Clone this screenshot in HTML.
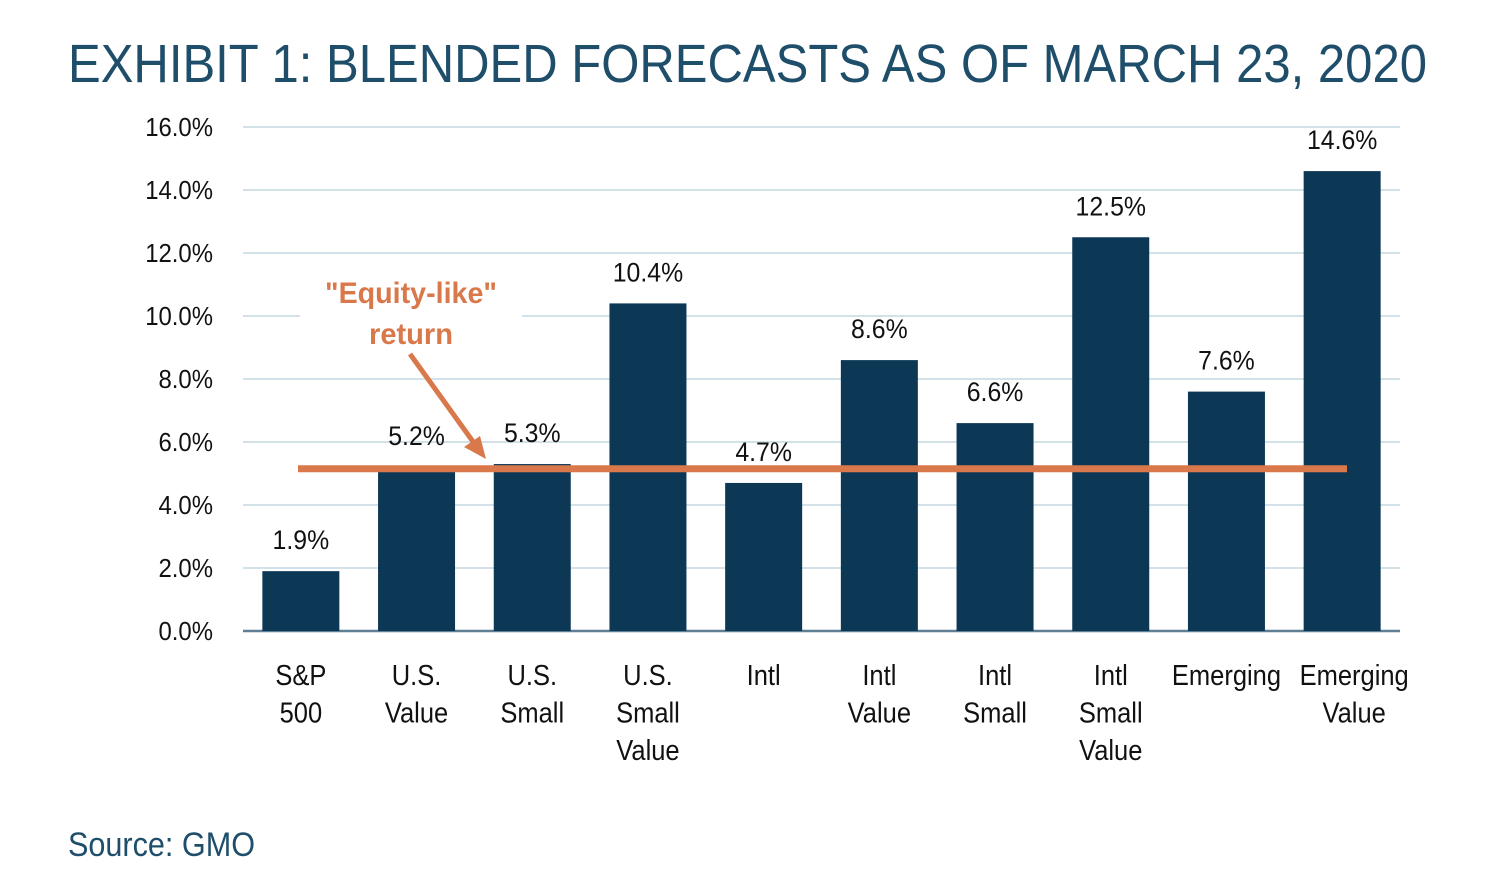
<!DOCTYPE html>
<html><head><meta charset="utf-8"><style>
html,body{margin:0;padding:0;background:#fff;width:1512px;height:888px;overflow:hidden}
svg{display:block}
text{font-family:"Liberation Sans Narrow","Liberation Sans",sans-serif}
</style></head><body>
<svg id="chart" width="1512" height="888" xmlns="http://www.w3.org/2000/svg">
<text x="68" y="82" font-size="54" fill="#1f4e6a" textLength="1359" lengthAdjust="spacingAndGlyphs">EXHIBIT 1: BLENDED FORECASTS AS OF MARCH 23, 2020</text>
<g id="grid"></g><g id="bars"></g><g id="labels"></g>
<rect x="300" y="268" width="222" height="84" fill="#fff"/>
<line id="eqline" x1="298" x2="1347" stroke="#d9784a" stroke-width="7"/>
<text x="411" y="303" font-size="30" font-weight="bold" fill="#d9784a" text-anchor="middle" textLength="172" lengthAdjust="spacingAndGlyphs">"Equity-like"</text>
<text x="411" y="344" font-size="30" font-weight="bold" fill="#d9784a" text-anchor="middle" textLength="84" lengthAdjust="spacingAndGlyphs">return</text>
<line x1="410" y1="354" x2="474" y2="443" stroke="#d9784a" stroke-width="5"/>
<polygon points="486,459 464,447 480,436" fill="#d9784a"/>
<text x="68" y="856" font-size="34" fill="#1f4e6a" textLength="187" lengthAdjust="spacingAndGlyphs">Source: GMO</text>
</svg>
<script>
const categories=[["S&P","500"],["U.S.","Value"],["U.S.","Small"],["U.S.","Small","Value"],["Intl"],["Intl","Value"],["Intl","Small"],["Intl","Small","Value"],["Emerging"],["Emerging","Value"]];
const values=[1.9,5.2,5.3,10.4,4.7,8.6,6.6,12.5,7.6,14.6];
const valueLabels=["1.9%","5.2%","5.3%","10.4%","4.7%","8.6%","6.6%","12.5%","7.6%","14.6%"];
const ticks=[0,2,4,6,8,10,12,14,16];
const tickLabels=["0.0%","2.0%","4.0%","6.0%","8.0%","10.0%","12.0%","14.0%","16.0%"];
const equityLike=[5.15];
const NS="http://www.w3.org/2000/svg";
const y0=631,pxPer=31.5,x0=243,x1=1400,n=categories.length,band=(x1-x0)/n;
const ys=v=>y0-v*pxPer, xs=i=>x0+band*(i+0.5);
function mk(tag,attrs,parent){const e=document.createElementNS(NS,tag);for(const k in attrs)e.setAttribute(k,attrs[k]);parent.appendChild(e);return e;}
const grid=document.getElementById('grid'),bars=document.getElementById('bars'),labels=document.getElementById('labels');
ticks.forEach((t,i)=>{
  const l=mk('line',{x1:x0,x2:x1,y1:ys(t),y2:ys(t),stroke:t===0?'#5f7f94':'#d3e2e8','stroke-width':t===0?2.5:2},grid);
  
  
  const tx=mk('text',{transform:`translate(213,${ys(t)+9}) scale(0.92,1)`,'font-size':26,fill:'#111','text-anchor':'end'},grid);
  tx.textContent=tickLabels[i];
  
  
});
values.forEach((v,i)=>{
  const r=mk('rect',{x:xs(i)-38.5,y:ys(v),width:77,height:v*pxPer,fill:'#0c3856'},bars);
  
  
  const vl=mk('text',{transform:`translate(${xs(i)},${ys(v)-22}) scale(0.92,1)`,'font-size':27,fill:'#111','text-anchor':'middle'},labels);
  vl.textContent=valueLabels[i];
  
  
  categories[i].forEach((s,j)=>{
    const c=mk('text',{transform:`translate(${xs(i)+(i===9?12:0)},${685+j*37.5}) scale(0.88,1)`,'font-size':29,fill:'#111','text-anchor':'middle'},labels);
    c.textContent=s;
    
    
  });
});
const eq=document.getElementById('eqline');eq.setAttribute('y1',ys(equityLike[0]));eq.setAttribute('y2',ys(equityLike[0]));
</script>
</body></html>
